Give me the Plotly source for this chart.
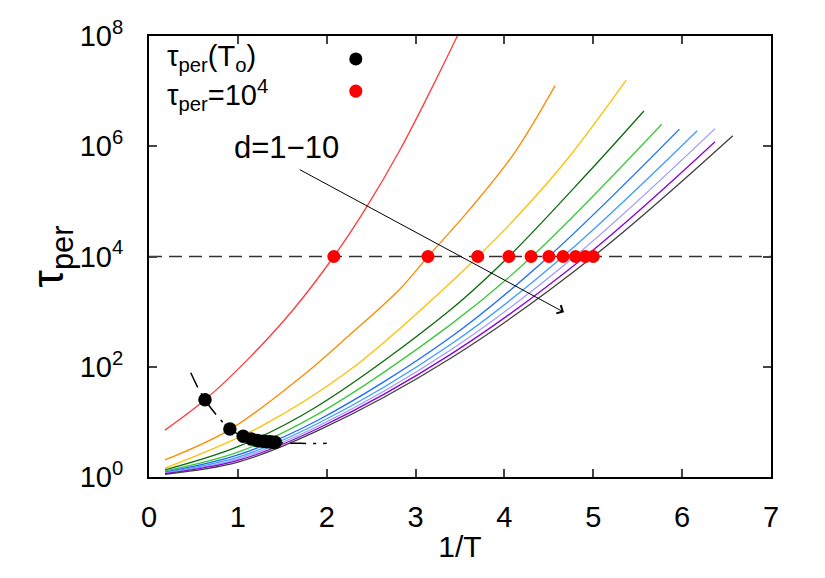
import numpy as np
import plotly.graph_objects as go

# ---- data (x = 1/T, values are log10(tau_per)) ----
D1_X = [0.18, 0.63, 1.14, 1.62, 2.08, 2.45, 2.83, 3.15, 3.47, 3.60]
D1_L = [0.85, 1.40, 2.18, 3.03, 4.00, 4.90, 5.95, 6.95, 8.00, 8.45]
D2_X = [0.18, 0.91, 1.70, 2.26, 2.83, 3.14, 3.58, 4.10, 4.57]
D2_L = [0.31, 0.86, 1.80, 2.58, 3.42, 4.00, 4.80, 5.85, 7.10]
D3_X = [0.18, 1.25, 2.26, 3.39, 3.70, 4.14, 4.70, 5.37]
D3_L = [0.16, 0.91, 1.94, 3.52, 4.00, 4.72, 5.75, 7.20]
D4_X = [0.18, 1.00, 1.89, 3.39, 4.05, 4.93, 5.57]
D4_L = [0.13, 0.55, 1.28, 3.03, 4.00, 5.50, 6.64]
D5_X = [0.18, 1.00, 1.90, 3.39, 4.31, 5.77]
D5_L = [0.11, 0.45, 1.14, 2.76, 4.00, 6.40]
D6_X = [0.18, 1.00, 1.90, 3.39, 4.50, 5.97]
D6_L = [0.09, 0.40, 1.03, 2.53, 4.00, 6.31]
D7_X = [0.18, 1.00, 1.90, 3.39, 4.66, 6.17]
D7_L = [0.08, 0.36, 0.97, 2.40, 4.00, 6.28]
D8_X = [0.18, 1.00, 1.90, 3.39, 4.79, 6.37]
D8_L = [0.07, 0.33, 0.92, 2.30, 4.00, 6.32]
D9_X = [0.18, 1.00, 1.90, 3.39, 4.91, 6.37]
D9_L = [0.06, 0.30, 0.88, 2.22, 4.00, 6.08]
D10_X = [0.18, 1.00, 1.90, 3.39, 5.00, 6.57]
D10_L = [0.05, 0.27, 0.84, 2.15, 4.00, 6.19]

CURVE_COLORS = ["#ff3b3b", "#ff8a00", "#ffc000", "#0b6b0b", "#3cc83c",
                "#1a6bff", "#3f9cff", "#9c9cff", "#8c00d8", "#404040"]

# tau_per(T_o) points (black) and tau_per = 1e4 crossings (red)
TO_X = [0.63, 0.91, 1.06, 1.15, 1.22, 1.28, 1.32, 1.36, 1.39, 1.42]
TO_L = [1.40, 0.87, 0.74, 0.69, 0.66, 0.65, 0.64, 0.64, 0.63, 0.63]
FIT_X = [0.47, 0.63, 0.91, 1.06, 1.20, 1.40, 1.70, 2.00]
FIT_L = [1.89, 1.40, 0.87, 0.74, 0.67, 0.63, 0.61, 0.61]
CROSS_X = [2.08, 3.14, 3.70, 4.05, 4.30, 4.50, 4.66, 4.80, 4.91, 5.00]
TAU_LEVEL = 1e4
X_RANGE = [0, 7]
Y_TICKS = [0, 2, 4, 6, 8]

FONT = "Liberation Sans, Arial, sans-serif"

curves_x = [D1_X, D2_X, D3_X, D4_X, D5_X, D6_X, D7_X, D8_X, D9_X, D10_X]
curves_l = [D1_L, D2_L, D3_L, D4_L, D5_L, D6_L, D7_L, D8_L, D9_L, D10_L]

fig = go.Figure()

# dashed threshold line
fig.add_trace(go.Scatter(x=X_RANGE, y=[TAU_LEVEL, TAU_LEVEL], mode="lines",
                         line=dict(color="#333333", width=1.6, dash="13px,7px"),
                         showlegend=False, hoverinfo="skip"))

for cx, cl, col in zip(curves_x, curves_l, CURVE_COLORS):
    fig.add_trace(go.Scatter(x=cx, y=np.power(10.0, cl), mode="lines",
                             line=dict(color=col, width=1.3, shape="spline", smoothing=1.0),
                             showlegend=False))

# dash-dot guide through the tau(To) points
fig.add_trace(go.Scatter(x=FIT_X, y=np.power(10.0, FIT_L), mode="lines",
                         line=dict(color="black", width=1.5, dash="16px,7px,3px,7px",
                                   shape="spline"),
                         showlegend=False))

fig.add_trace(go.Scatter(x=CROSS_X, y=[TAU_LEVEL] * len(CROSS_X), mode="markers",
                         marker=dict(color="#ff0000", size=13, line=dict(width=0)),
                         showlegend=False))
fig.add_trace(go.Scatter(x=TO_X, y=np.power(10.0, TO_L), mode="markers",
                         marker=dict(color="black", size=13.5, line=dict(width=0)),
                         showlegend=False))

# legend drawn gnuplot-style (text left, symbol right)
fig.add_annotation(xref="paper", yref="paper", x=0.026, y=0.950, xanchor="left",
                   yanchor="middle", showarrow=False,
                   text="τ<sub>per</sub>(T<sub>o</sub>)", font=dict(size=29, family=FONT, color="black"))
fig.add_annotation(xref="paper", yref="paper", x=0.026, y=0.866, xanchor="left",
                   yanchor="middle", showarrow=False,
                   text="τ<sub>per</sub>=10<sup>4</sup>", font=dict(size=29, family=FONT, color="black"))
for yy, col in [(0.948, "black"), (0.875, "#ff0000")]:
    fig.add_shape(type="circle", xref="paper", yref="paper",
                  x0=0.3325 - 0.0105, x1=0.3325 + 0.0105,
                  y0=yy - 0.0148, y1=yy + 0.0148,
                  fillcolor=col, line=dict(width=0))

# d=1-10 label and arrow
fig.add_annotation(x=1.55, y=5.97, xref="x", yref="y", showarrow=False,
                   text="d=1−10", font=dict(size=31, family=FONT, color="black"))
fig.add_annotation(x=4.67, y=2.99, ax=1.68, ay=5.59, xref="x", yref="y",
                   axref="x", ayref="y", showarrow=True, arrowhead=4,
                   arrowsize=1.8, arrowwidth=1, arrowcolor="black", text="")

fig.update_xaxes(range=X_RANGE, tickvals=list(range(0, 8)), ticks="inside", ticklen=8,
                 tickwidth=1.5, mirror="ticks", showline=True, linecolor="black",
                 linewidth=2, showgrid=False, zeroline=False,
                 tickfont=dict(size=29, family=FONT, color="black"),
                 title=dict(text="1/T", font=dict(size=30, family=FONT, color="black"),
                            standoff=4),
                 ticklabelstandoff=13)
fig.update_yaxes(type="log", range=[Y_TICKS[0], Y_TICKS[-1]],
                 tickvals=[10.0 ** t for t in Y_TICKS],
                 ticktext=[f"10<sup>{t}</sup>" for t in Y_TICKS],
                 ticks="inside", ticklen=8, tickwidth=1.5, mirror="ticks",
                 showline=True, linecolor="black", linewidth=2, showgrid=False,
                 zeroline=False, tickfont=dict(size=29, family=FONT, color="black"),
                 ticklabelstandoff=18,
                 title=dict(text="τ<sub>per</sub>", font=dict(size=44, family=FONT, color="black"),
                            standoff=0))

fig.update_layout(width=825, height=578, autosize=False,
                  margin=dict(l=149, r=54, t=36, b=101, autoexpand=False),
                  plot_bgcolor="white", paper_bgcolor="white",
                  font=dict(family=FONT, color="black"))

fig.write_html("out.html")
